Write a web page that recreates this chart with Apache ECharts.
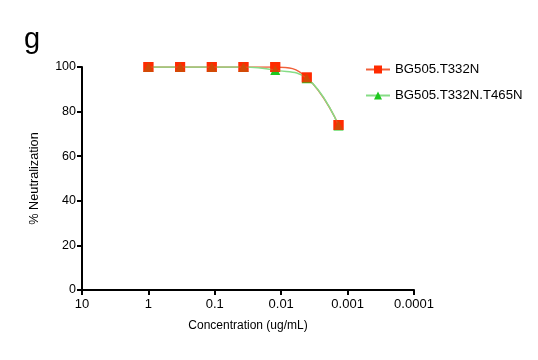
<!DOCTYPE html>
<html><head><meta charset="utf-8">
<script src="https://cdn.jsdelivr.net/npm/echarts@6/dist/echarts.min.js"></script>
<style>html,body{margin:0;padding:0;background:#fff}#c{width:538px;height:360px}</style>
</head><body><div id="c"></div>
<script>
const concentrations = [1, 0.333, 0.111, 0.037, 0.0123, 0.00412, 0.00137];
const seriesNames = ['BG505.T332N', 'BG505.T332N.T465N'];
const valuesT332N = [100, 100, 100, 100, 100, 95.3, 74];
const valuesT332NT465N = [100, 100, 100, 100, 98.6, 95, 73.8];
const xTickLabels = ['10', '1', '0.1', '0.01', '0.001', '0.0001'];

const font = 'Liberation Sans, Arial, sans-serif';
const chart = echarts.init(document.getElementById('c'), null, {renderer: 'canvas'});
function pairs(vals){ return concentrations.map((c,i)=>[c, vals[i]]); }
function fmtX(v){
  const e = Math.round(Math.log10(v));
  const idx = 1 - e;
  return xTickLabels[idx] !== undefined ? xTickLabels[idx] : '';
}
const red = '#ff2a00', redLine = '#f0603a', green = '#1ec81e', greenLine = '#86dd86';
chart.setOption({
  animation: false,
  graphic: [{type:'text', left: 24, top: 25, style:{text:'g', font: '29px ' + font, fill:'#000'}}],
  legend: {
    orient: 'vertical', left: 360, top: 58, itemGap: 13, itemWidth: 24, itemHeight: 10,
    textStyle: {fontFamily: font, fontSize: 13.2, color: '#000'},
    data: seriesNames
  },
  grid: {left: 82, right: 124, top: 67, bottom: 70, containLabel: false},
  xAxis: {
    type: 'log', logBase: 10, min: 0.0001, max: 10, inverse: true,
    name: 'Concentration (ug/mL)', nameLocation: 'middle', nameGap: 30,
    nameTextStyle: {fontFamily: font, fontSize: 12, color: '#000'},
    axisLine: {lineStyle: {color: '#000', width: 2}},
    axisTick: {show: true, length: 5, lineStyle: {color: '#000', width: 2}},
    minorTick: {show: false},
    splitLine: {show: false},
    axisLabel: {fontFamily: font, fontSize: 13, color: '#000', margin: 8, formatter: fmtX}
  },
  yAxis: {
    type: 'value', min: 0, max: 100, interval: 20,
    name: '% Neutralization', nameLocation: 'middle', nameGap: 41, nameRotate: 90,
    nameTextStyle: {fontFamily: font, fontSize: 12.7, color: '#000'},
    axisLine: {show: true, lineStyle: {color: '#000', width: 2}},
    axisTick: {show: true, length: 5, lineStyle: {color: '#000', width: 2}},
    splitLine: {show: false},
    axisLabel: {fontFamily: font, fontSize: 12.5, color: '#000', margin: 6}
  },
  series: [
    {
      name: seriesNames[0], type: 'line', data: pairs(valuesT332N),
      smooth: 0.45, symbol: 'rect', symbolSize: 10,
      itemStyle: {color: red}, lineStyle: {color: redLine, width: 1.5}, z: 1
    },
    {
      name: seriesNames[1], type: 'line', data: pairs(valuesT332NT465N),
      smooth: 0.45, symbol: 'triangle', symbolSize: 10,
      itemStyle: {color: green}, lineStyle: {color: greenLine, width: 1.5}, z: 2
    },
    {
      name: seriesNames[0], type: 'scatter', data: pairs(valuesT332N),
      symbol: 'rect', symbolSize: 10, itemStyle: {color: red}, z: 3
    }
  ]
});
</script></body></html>
